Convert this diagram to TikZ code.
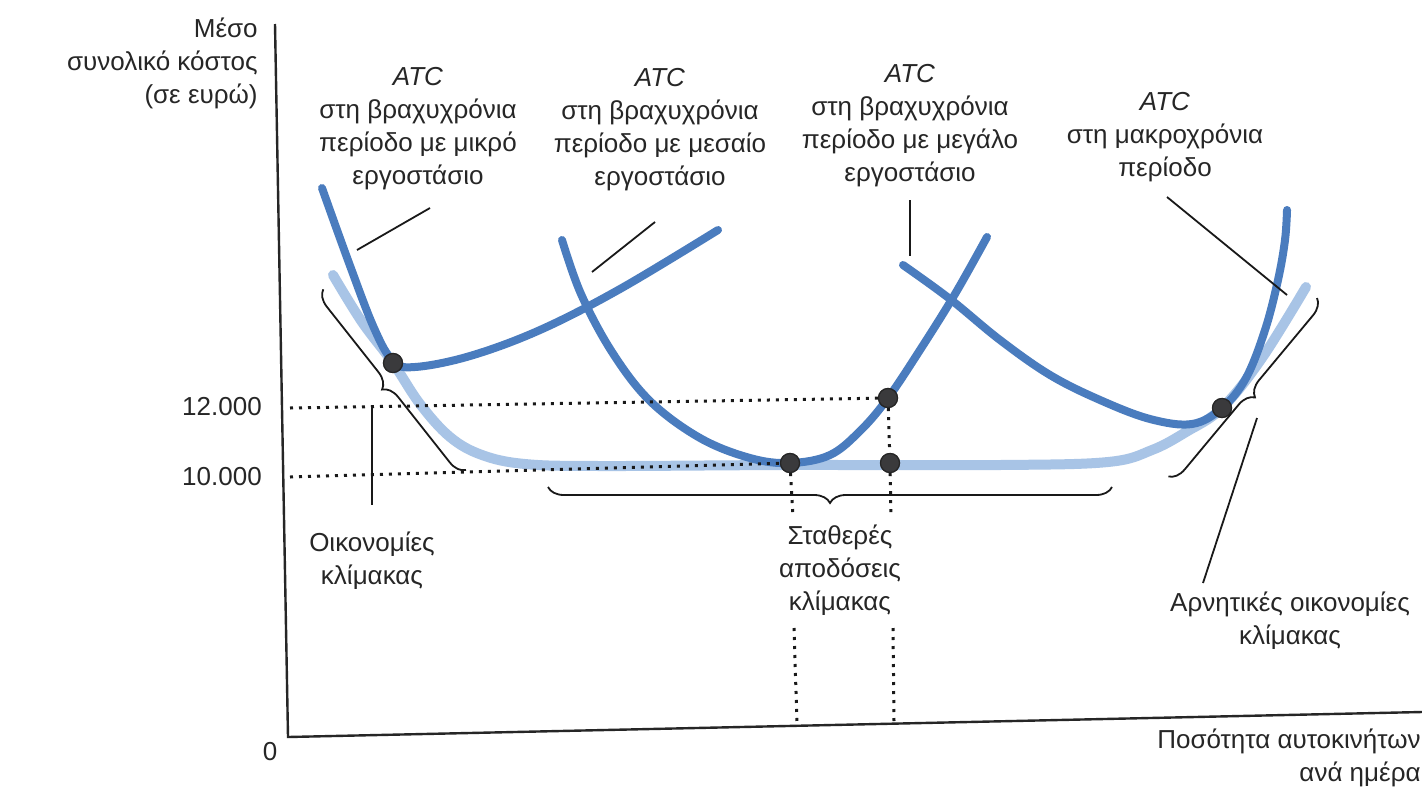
\documentclass[tikz,border=0pt]{standalone}
\usepackage{fontspec}
\setmainfont{Liberation Sans}
\usetikzlibrary{decorations.pathreplacing}
\definecolor{srblue}{RGB}{74,124,190}
\definecolor{lrblue}{RGB}{168,196,230}
\definecolor{dotgray}{RGB}{58,58,60}
\begin{document}
\begin{tikzpicture}[x=0.5pt,y=-0.5pt,
  lbl/.style={font=\fontsize{13}{16.5}\selectfont, align=center, inner sep=0pt, text=black!85},
  srcurve/.style={draw=srblue, line width=4pt, line cap=round},
  lrcurve/.style={draw=lrblue, line width=5pt, line cap=round},
  dotpt/.style={circle, fill=dotgray, draw=black!85, line width=0.6pt, minimum size=9.5pt, inner sep=0pt},
  guide/.style={line width=1.5pt, dash pattern=on 1.5pt off 3pt, black!90},
  lead/.style={line width=0.9pt, black!90},
  bracepath/.style={line width=0.9pt, black!90, decorate, decoration={brace, amplitude=8pt}},
  axisline/.style={line width=1.2pt, black!85}]
\useasboundingbox (0,0) rectangle (1422,787);
\fill[white] (0,0) rectangle (1422,787);

% axes
\coordinate (ytop) at (275,24);
\coordinate (orig) at (288,737);
\coordinate (xend) at (1422,712);
\draw[axisline] (ytop) -- (orig) -- (xend);

% long-run ATC
\draw[lrcurve] plot[smooth, tension=0.6] coordinates {(333,275) (362,322) (393,363) (420,404) (450,437) (482,455) (525,464) (600,466) (790,465) (1000,465) (1108,462) (1152,450) (1186,432) (1222,408) (1262,358) (1306,287)};

% short-run ATC curves
\draw[srcurve] plot[smooth, tension=0.6] coordinates {(322,188) (349,263) (374,328) (393,361) (415,367) (470,356) (540,330) (620,289) (718,230)};
\draw[srcurve] plot[smooth, tension=0.6] coordinates {(562,240) (581,294) (612,352) (650,401) (700,438) (750,458) (790,463) (830,455) (861,430) (888,398) (920,350) (955,294) (987,237)};
\draw[srcurve] plot[smooth, tension=0.6] coordinates {(903,265) (950,299) (1000,340) (1050,375) (1100,400) (1150,419) (1192,424) (1222,408) (1246,378) (1265,330) (1278,280) (1285,240) (1287,210)};

% points
\node[dotpt] (pS) at (393,363) {};
\node[dotpt] (pM) at (790,463) {};
\node[dotpt] (pL) at (888,398) {};
\node[dotpt] (pC) at (890,463) {};
\node[dotpt] (pR) at (1222,408) {};

% guide lines
\coordinate (y12) at (290,408);
\coordinate (y10) at (290,477);
\draw[guide] (y12) -- (pL);
\draw[guide] (y10) -- (pM);
\draw[guide] (pL) -- (pC);
\coordinate (vM1) at (793,518);
\coordinate (vM2) at (794,628);
\coordinate (vM3) at (797,724);
\coordinate (vC1) at (891,518);
\coordinate (vC2) at (893,628);
\coordinate (vC3) at (894,722);
\draw[guide] (pM) -- (vM1);
\draw[guide] (vM2) -- (vM3);
\draw[guide] (pC) -- (vC1);
\draw[guide] (vC2) -- (vC3);
\node[dotpt] at (pS) {};
\node[dotpt] at (pM) {};
\node[dotpt] at (pL) {};
\node[dotpt] at (pC) {};
\node[dotpt] at (pR) {};

% braces
\draw[bracepath] (466,470) -- (323,289);
\draw[bracepath] (1112,487) -- (548,487);
\draw[bracepath] (1317,298) -- (1168,477);

% texts
\node[lbl, align=right, anchor=north east] (ylab) at (258,18) {Μέσο\\συνολικό κόστος\\(σε ευρώ)};
\node[lbl] (t12) at (222,407) {12.000};
\node[lbl] (t10) at (222,477) {10.000};
\node[lbl] (zero) at (270,752) {0};
\node[lbl, align=right, anchor=east] (xlab) at (1421,758) {Ποσότητα αυτοκινήτων\\ανά ημέρα};

\node[lbl] (labS) at (418,129) {\textit{ATC}\\στη βραχυχρόνια\\περίοδο με μικρό\\εργοστάσιο};
\node[lbl] (labM) at (660,130) {\textit{ATC}\\στη βραχυχρόνια\\περίοδο με μεσαίο\\εργοστάσιο};
\node[lbl] (labL) at (910,126) {\textit{ATC}\\στη βραχυχρόνια\\περίοδο με μεγάλο\\εργοστάσιο};
\node[lbl] (labR) at (1165,137) {\textit{ATC}\\στη μακροχρόνια\\περίοδο};

\node[lbl] (eco) at (372,561) {Οικονομίες\\κλίμακας};
\node[lbl] (crs) at (840,570) {Σταθερές\\αποδόσεις\\κλίμακας};
\node[lbl] (dis) at (1290,621) {Αρνητικές οικονομίες\\κλίμακας};

% leader lines
\coordinate (lS1) at (430,208); \coordinate (lS2) at (357,250);
\coordinate (lM1) at (655,222); \coordinate (lM2) at (592,272);
\coordinate (lL1) at (910,200); \coordinate (lL2) at (910,256);
\coordinate (lR1) at (1167,197); \coordinate (lR2) at (1287,295);
\coordinate (lE1) at (372,405); \coordinate (lE2) at (372,505);
\coordinate (lD1) at (1257,418); \coordinate (lD2) at (1203,583);
\draw[lead] (lS1) -- (lS2);
\draw[lead] (lM1) -- (lM2);
\draw[lead] (lL1) -- (lL2);
\draw[lead] (lR1) -- (lR2);
\draw[lead] (lE1) -- (lE2);
\draw[lead] (lD1) -- (lD2);
\end{tikzpicture}
\end{document}
